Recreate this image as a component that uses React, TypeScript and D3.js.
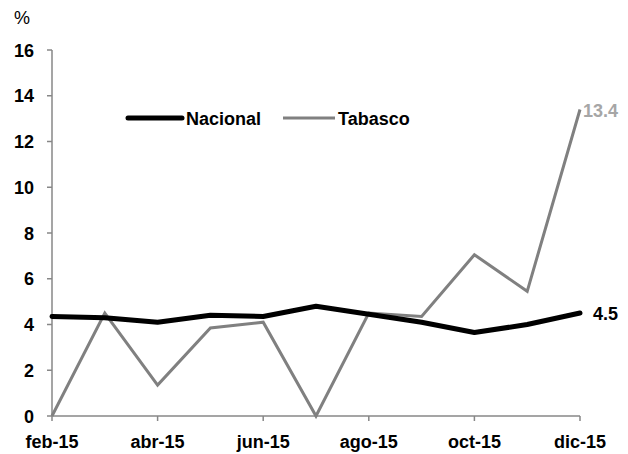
import React, { useEffect, useRef } from 'react';
import * as d3 from 'd3';

const months = ['feb-15', 'mar-15', 'abr-15', 'may-15', 'jun-15', 'jul-15', 'ago-15', 'sep-15', 'oct-15', 'nov-15', 'dic-15'];
const nacional = [4.35, 4.3, 4.1, 4.4, 4.35, 4.8, 4.45, 4.1, 3.65, 4.0, 4.5];
const tabasco = [0, 4.5, 1.35, 3.85, 4.1, 0, 4.5, 4.35, 7.05, 5.45, 13.4];
const yTicks = [0, 2, 4, 6, 8, 10, 12, 14, 16];
const xTickLabels = ['feb-15', 'abr-15', 'jun-15', 'ago-15', 'oct-15', 'dic-15'];

const FONT = '"Liberation Sans", Arial, sans-serif';
const FS = 18;

const App = () => {
  const svgRef = useRef<SVGSVGElement>(null);

  useEffect(() => {
    const svg = d3.select(svgRef.current);
    const width = 628;
    const height = 454;
    svg.attr('width', width).attr('height', height);

    const x = d3.scalePoint<string>().domain(months).range([52, 580]);
    const y = d3.scaleLinear().domain([0, 16]).range([416, 50]);
    const axisColor = '#878787';

    // y axis
    const yAxis = svg.append('g').attr('transform', 'translate(52,0)');
    yAxis.append('line').attr('x1', 0).attr('x2', 0).attr('y1', y(0)).attr('y2', y(16))
      .attr('stroke', axisColor).attr('stroke-width', 1.5);
    yAxis.selectAll('line.tick').data(yTicks).enter().append('line')
      .attr('class', 'tick')
      .attr('x1', -5).attr('x2', 0)
      .attr('y1', (d) => y(d)).attr('y2', (d) => y(d))
      .attr('stroke', axisColor).attr('stroke-width', 1.5);
    yAxis.selectAll('text').data(yTicks).enter().append('text')
      .attr('x', -18).attr('y', (d) => y(d) + 6.5)
      .attr('text-anchor', 'end')
      .attr('font-family', FONT).attr('font-weight', 'bold').attr('font-size', FS)
      .text((d) => d);

    // x axis
    const xAxis = svg.append('g');
    xAxis.append('line').attr('x1', x(months[0])!).attr('x2', x(months[months.length - 1])!)
      .attr('y1', y(0)).attr('y2', y(0))
      .attr('stroke', axisColor).attr('stroke-width', 1.5);
    xAxis.selectAll('line.tick').data(xTickLabels).enter().append('line')
      .attr('class', 'tick')
      .attr('x1', (d) => x(d)!).attr('x2', (d) => x(d)!)
      .attr('y1', y(0)).attr('y2', y(0) + 5)
      .attr('stroke', axisColor).attr('stroke-width', 1.5);
    xAxis.selectAll('text').data(xTickLabels).enter().append('text')
      .attr('x', (d) => x(d)!).attr('y', 448)
      .attr('text-anchor', 'middle')
      .attr('font-family', FONT).attr('font-weight', 'bold').attr('font-size', FS)
      .text((d) => d);

    svg.append('text').attr('x', 14).attr('y', 24)
      .attr('font-family', FONT).attr('font-size', FS).text('%');

    const line = d3.line<number>().x((_, i) => x(months[i])!).y((d) => y(d));

    svg.append('path').datum(tabasco).attr('d', line)
      .attr('fill', 'none').attr('stroke', '#808080').attr('stroke-width', 3)
      .attr('stroke-linejoin', 'miter');
    svg.append('path').datum(nacional).attr('d', line)
      .attr('fill', 'none').attr('stroke', '#000').attr('stroke-width', 5)
      .attr('stroke-linejoin', 'round').attr('stroke-linecap', 'round');

    // end labels
    const last = months.length - 1;
    svg.append('text').attr('x', x(months[last])! + 13).attr('y', y(nacional[last]) + 6.5)
      .attr('font-family', FONT).attr('font-weight', 'bold').attr('font-size', FS)
      .attr('fill', '#000').text(nacional[last].toFixed(1));
    svg.append('text').attr('x', x(months[last])! + 3).attr('y', y(tabasco[last]) + 8)
      .attr('font-family', FONT).attr('font-weight', 'bold').attr('font-size', FS)
      .attr('fill', '#a6a6a6').text(tabasco[last].toFixed(1));

    // legend
    const legend = svg.append('g');
    legend.append('line').attr('x1', 128).attr('x2', 182).attr('y1', 118).attr('y2', 118)
      .attr('stroke', '#000').attr('stroke-width', 5).attr('stroke-linecap', 'round');
    legend.append('text').attr('x', 186).attr('y', 124.5)
      .attr('font-family', FONT).attr('font-weight', 'bold').attr('font-size', FS).text('Nacional');
    legend.append('line').attr('x1', 283).attr('x2', 335).attr('y1', 118).attr('y2', 118)
      .attr('stroke', '#808080').attr('stroke-width', 3);
    legend.append('text').attr('x', 338).attr('y', 124.5)
      .attr('font-family', FONT).attr('font-weight', 'bold').attr('font-size', FS).text('Tabasco');

    return () => {
      svg.selectAll('*').remove();
    };
  }, []);

  return <svg ref={svgRef} style={{ position: 'absolute', left: 0, top: 0 }}></svg>;
};

export default App;
